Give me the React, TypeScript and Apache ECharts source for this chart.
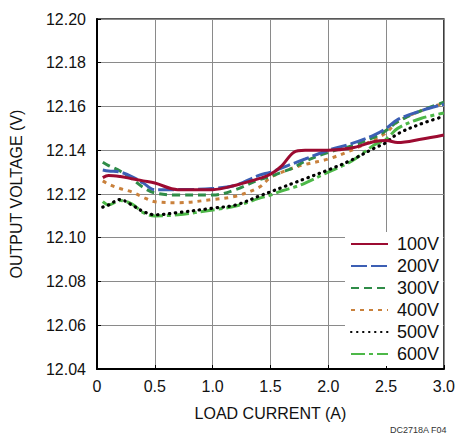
import React, { useEffect, useRef } from "react";
import * as echarts from "echarts";

const loadCurrent = [0.05, 0.1, 0.2, 0.3, 0.4, 0.5, 0.7, 1.0, 1.2, 1.4, 1.5, 1.6, 1.7, 1.8, 2.0, 2.2, 2.4, 2.5, 2.6, 2.8, 3.0];

const v100 = [12.1275, 12.1285, 12.128, 12.127, 12.126, 12.125, 12.122, 12.122, 12.124, 12.127, 12.129, 12.133, 12.139, 12.140, 12.140, 12.141, 12.144, 12.1445, 12.1435, 12.145, 12.147];
const v200 = [12.131, 12.1305, 12.130, 12.128, 12.125, 12.122, 12.122, 12.1225, 12.124, 12.1285, 12.130, 12.132, 12.134, 12.136, 12.140, 12.143, 12.147, 12.150, 12.154, 12.158, 12.161];
const v300 = [12.1345, 12.133, 12.1305, 12.127, 12.123, 12.1205, 12.1195, 12.1195, 12.122, 12.1265, 12.128, 12.130, 12.132, 12.135, 12.139, 12.142, 12.146, 12.149, 12.153, 12.158, 12.162];
const v400 = [12.126, 12.1245, 12.1225, 12.121, 12.1185, 12.1165, 12.116, 12.1175, 12.119, 12.123, 12.1275, 12.130, 12.132, 12.1335, 12.136, 12.140, 12.145, 12.148, 12.153, 12.158, 12.1615];
const v500 = [12.114, 12.115, 12.1175, 12.115, 12.112, 12.1105, 12.1115, 12.1135, 12.115, 12.119, 12.121, 12.123, 12.125, 12.127, 12.131, 12.1355, 12.141, 12.1435, 12.1475, 12.152, 12.1555];
const v600 = [12.1165, 12.115, 12.117, 12.1155, 12.1115, 12.110, 12.1105, 12.1127, 12.1145, 12.118, 12.1195, 12.1215, 12.123, 12.125, 12.130, 12.135, 12.1425, 12.145, 12.150, 12.1545, 12.157];

const seriesNames = ["100V", "200V", "300V", "400V", "500V", "600V"];
const seriesValues = [v100, v200, v300, v400, v500, v600];
const seriesColors = ["#9c0b31", "#3c5fb4", "#2f8c48", "#c9813c", "#000000", "#4db848"];
const seriesDash: any[] = ["solid", [16, 4], [8, 5], [4, 5], [0.5, 5.5], [14, 4, 4, 4]];

const FONT = "'Liberation Sans Narrow', 'Arial Narrow', 'Liberation Sans', sans-serif";

export default function App() {
  const ref = useRef<HTMLDivElement>(null);
  useEffect(() => {
    if (!ref.current) return;
    const chart = echarts.init(ref.current, null, { renderer: "svg" });
    chart.setOption({
      animation: false,
      backgroundColor: "#fff",
      grid: {
        left: 95,
        right: 11,
        top: 19,
        bottom: 66,
        show: true,
        borderColor: "#222",
        borderWidth: 1.5,
      },
      xAxis: {
        type: "value",
        min: 0,
        max: 3,
        interval: 0.5,
        name: "LOAD CURRENT (A)",
        nameLocation: "middle",
        nameGap: 36,
        nameTextStyle: { fontFamily: FONT, fontSize: 16, color: "#111" },
        axisLine: { show: true, onZero: false, lineStyle: { color: "#000", width: 2 } },
        axisTick: { show: true, inside: true, length: 4, lineStyle: { color: "#000" } },
        axisLabel: {
          fontFamily: FONT,
          fontSize: 16,
          color: "#111",
          margin: 9,
          formatter: (v: number) => (v === 0 ? "0" : v.toFixed(1)),
        },
        splitLine: { show: true, lineStyle: { color: "#8a8a8a", width: 1 } },
      },
      yAxis: {
        type: "value",
        min: 12.04,
        max: 12.2,
        interval: 0.02,
        name: "OUTPUT VOLTAGE (V)",
        nameLocation: "middle",
        nameGap: 73,
        nameRotate: 90,
        nameTextStyle: { fontFamily: FONT, fontSize: 16, color: "#111" },
        axisLine: { show: true, onZero: false, lineStyle: { color: "#000", width: 2 } },
        axisTick: { show: true, inside: true, length: 4, lineStyle: { color: "#000" } },
        axisLabel: {
          fontFamily: FONT,
          fontSize: 16,
          color: "#111",
          margin: 11,
          formatter: (v: number) => v.toFixed(2),
        },
        splitLine: { show: true, lineStyle: { color: "#8a8a8a", width: 1 } },
      },
      legend: {
        orient: "vertical",
        left: 345,
        top: 232,
        padding: [3, 4, 3, 5],
        backgroundColor: "#fff",
        itemWidth: 37,
        itemHeight: 14,
        itemGap: 4,
        itemStyle: { opacity: 0 },
        textStyle: { fontFamily: FONT, fontSize: 18, color: "#111", padding: [0, 0, 0, 4] },
        data: seriesNames,
      },
      graphic: [
        {
          type: "text",
          right: 11,
          top: 425,
          style: { text: "DC2718A F04", fontFamily: FONT, fontSize: 9, fill: "#333" },
        },
      ],
      series: seriesNames.map((name, i) => ({
        name,
        type: "line",
        smooth: 0.35,
        symbol: "none",
        z: 10 - i,
        data: loadCurrent.map((x, j) => [x, seriesValues[i][j]]),
        lineStyle: {
          color: seriesColors[i],
          width: i === 4 ? 3.2 : 3,
          type: seriesDash[i],
          cap: i === 4 ? "round" : "butt",
        },
        itemStyle: { color: seriesColors[i] },
      })),
    });
    return () => chart.dispose();
  }, []);
  return <div ref={ref} style={{ width: 458, height: 435, position: "absolute", left: 0, top: 0 }} />;
}
